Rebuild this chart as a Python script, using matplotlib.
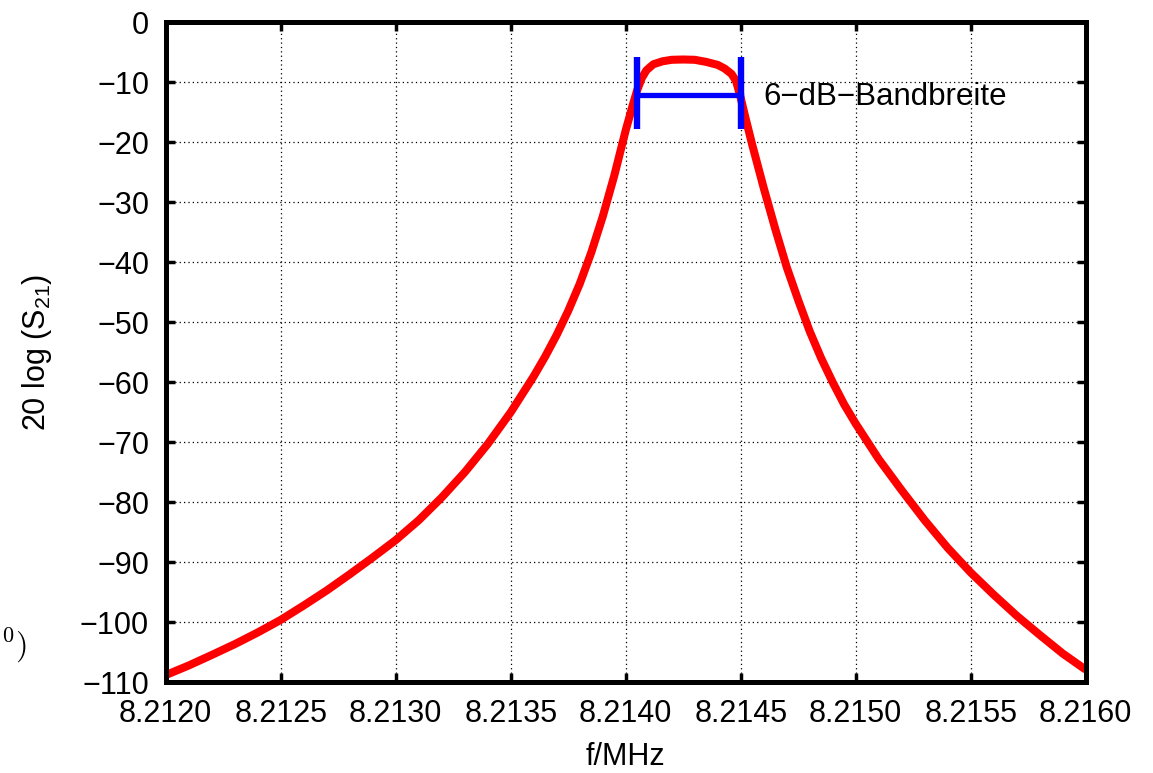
"""
Transmission curve of a crystal filter with 6-dB bandwidth marker.
"""
from matplotlib import pyplot as plt
from matplotlib.ticker import FormatStrFormatter

plt.rcParams['font.family'] = ['Liberation Sans', 'DejaVu Sans']
plt.rcParams['mathtext.fontset'] = 'custom'
plt.rcParams['mathtext.rm'] = 'Liberation Sans'
plt.rcParams['mathtext.default'] = 'rm'

# values (f in MHz, 20 log S21 in dB)
freq = [8.21200, 8.21210, 8.21220, 8.21230, 8.21240, 8.21250, 8.21260,
        8.21270, 8.21280, 8.21290, 8.21300, 8.21310, 8.21320, 8.21330,
        8.21340, 8.21350, 8.21360, 8.21365, 8.21370, 8.21375, 8.21380,
        8.21385, 8.21390, 8.21395, 8.21400, 8.21403, 8.21405, 8.21407,
        8.21409, 8.21412, 8.21416, 8.21420, 8.21425, 8.21430, 8.21435,
        8.21440, 8.21443, 8.21446, 8.21448, 8.21450, 8.21452, 8.21455,
        8.21460, 8.21465, 8.21470, 8.21475, 8.21480, 8.21485, 8.21490,
        8.21495, 8.21500, 8.21510, 8.21520, 8.21530, 8.21540, 8.21550,
        8.21560, 8.21570, 8.21580, 8.21590, 8.21600]
s21 = [-108.8, -107.2, -105.45, -103.65, -101.7, -99.6, -97.2,
       -94.7, -92.0, -89.2, -86.3, -83.0, -79.2, -75.0,
       -70.3, -65.0, -59.0, -55.7, -52.1, -48.1, -43.6,
       -38.4, -32.4, -25.6, -18.0, -13.9, -11.3, -9.3,
       -8.0, -7.0, -6.5, -6.25, -6.2, -6.25, -6.6,
       -7.1, -7.7, -8.6, -9.8, -12.6, -15.8, -20.4,
       -27.6, -34.4, -40.8, -46.3, -51.5, -56.0, -60.0,
       -63.7, -66.9, -72.8, -78.0, -83.0, -87.6, -91.7,
       -95.4, -98.9, -102.1, -105.2, -107.9]

# 6-dB bandwidth marker
bw_edges = [8.214049, 8.214500]
bw_level = -12.2
bw_cap = [-17.8, -5.8]
bw_label = '6\u2212dB\u2212Bandbreite'

x_ticks = [8.2120 + 0.0005 * i for i in range(9)]
y_ticks = list(range(-110, 1, 10))

W, H = 1153, 773
fig = plt.figure(figsize=(W / 100, H / 100), dpi=100)
ax = fig.add_axes([165.7 / W, 1 - 682.3 / H, 920 / W, 660 / H])

ax.plot(freq, s21, color='#ff0000', linewidth=5.8, clip_on=False,
        solid_capstyle='butt', solid_joinstyle='round', zorder=3)

ax.plot(bw_edges, [bw_level, bw_level], color='#0000ff', linewidth=3.8, zorder=4)
ax.vlines(bw_edges, bw_cap[0], bw_cap[1], color='#0000ff', linewidth=4.6, zorder=4)
ax.text(8.214597, bw_level - 0.3, bw_label, fontsize=22.5, va='center', ha='left')

ax.set_xlim(x_ticks[0], x_ticks[-1])
ax.set_ylim(y_ticks[0], y_ticks[-1])
ax.set_xticks(x_ticks)
ax.set_yticks(y_ticks)
ax.xaxis.set_major_formatter(FormatStrFormatter('%.4f'))
ax.tick_params(which='both', direction='in', top=True, right=True,
               length=6.5, width=2.5, labelsize=22)
ax.tick_params(axis='x', pad=12)
ax.tick_params(axis='y', pad=12)
for sp in ax.spines.values():
    sp.set_linewidth(3.6)
    sp.set_zorder(5)

ax.grid(True, color='black', linestyle=(0, (1, 2.5)), linewidth=0.9)
ax.set_axisbelow(True)

fig.text(37 / W, 1 - 352 / H, r'20 log (S$_{21}$)', rotation=90,
         fontsize=22, ha='center', va='center')
fig.text(625.7 / W, 1 - 757 / H, 'f/MHz', fontsize=22, ha='center', va='center')

# leftover fragment at the left edge of the original
fig.text(1 / W, 1 - 654 / H, r'$^{0})$', fontsize=23, math_fontfamily='cm',
         ha='left', va='baseline')

plt.savefig('out.png', dpi=100)
